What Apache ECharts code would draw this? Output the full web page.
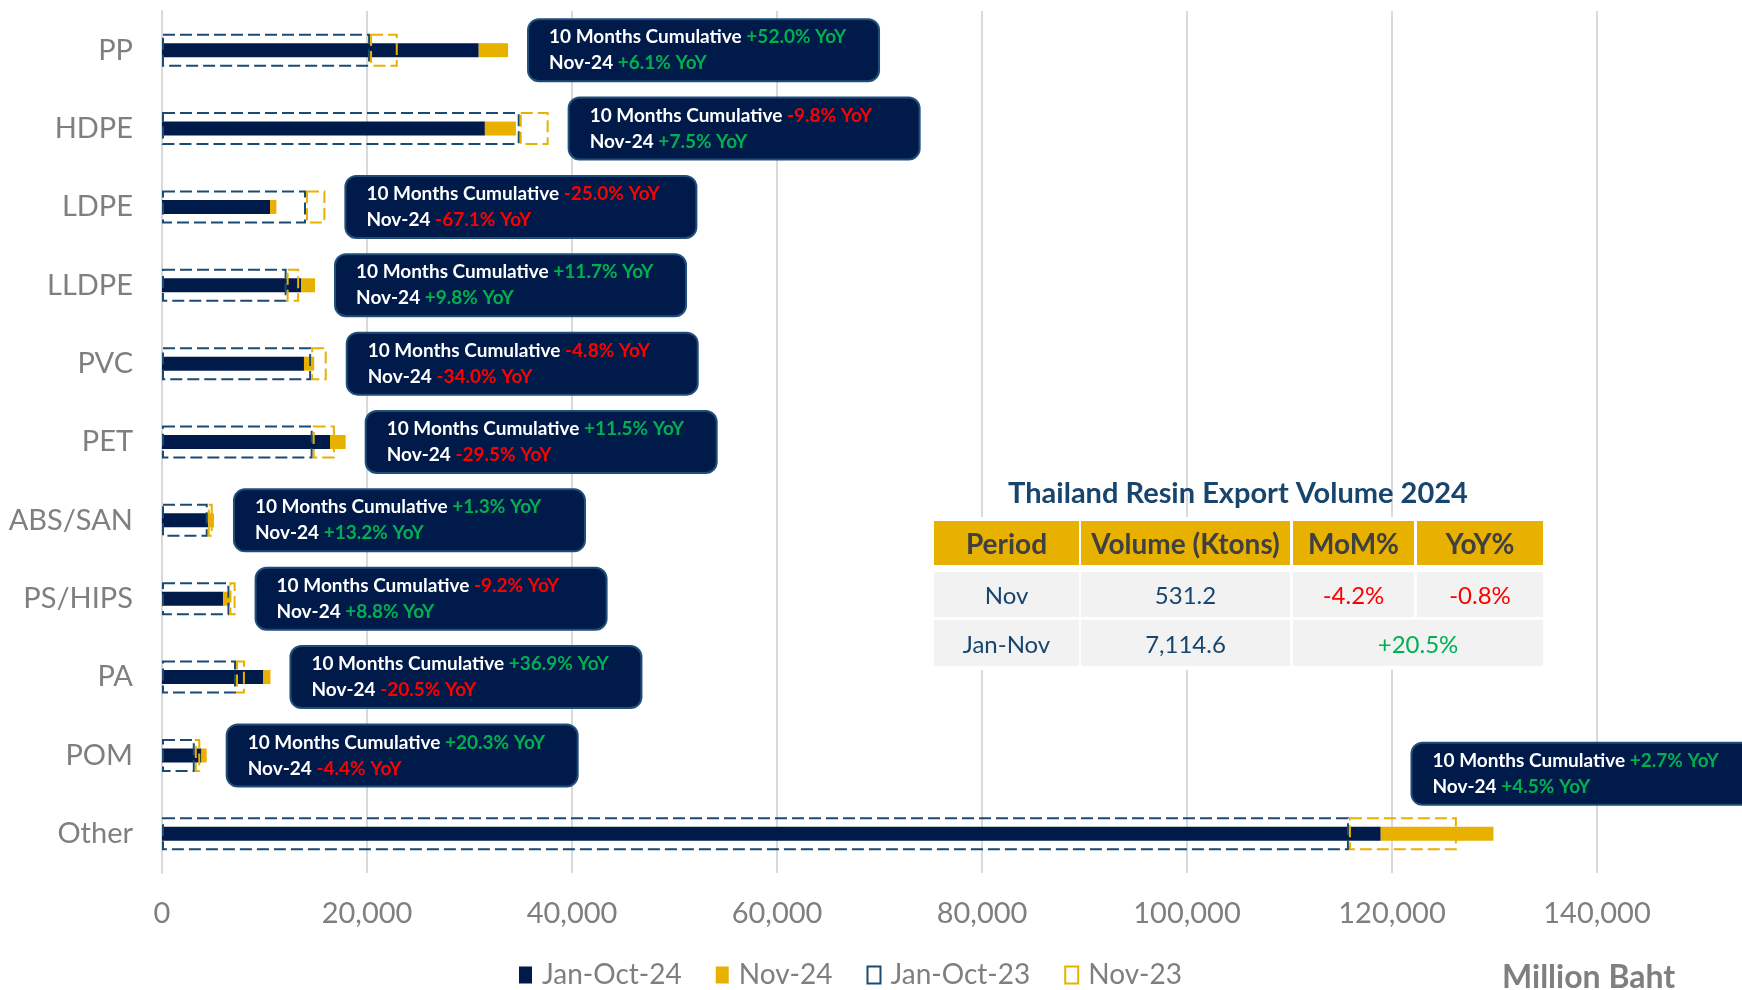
<!DOCTYPE html>
<html>
<head>
<meta charset="utf-8">
<title>Thailand Resin Export</title>
<script src="https://cdn.jsdelivr.net/npm/echarts@6/dist/echarts.min.js"></script>
<style>
  html, body { margin: 0; padding: 0; background: #fff; }
  #chart { width: 1742px; height: 990px; }
</style>
</head>
<body>
<div id="chart"></div>
<script>
// resin categories, top to bottom
var categories = ['PP', 'HDPE', 'LDPE', 'LLDPE', 'PVC', 'PET', 'ABS/SAN', 'PS/HIPS', 'PA', 'POM', 'Other'];

// export value, million baht
var janOct24 = [30900, 31500, 10540, 13590, 13850, 16390, 4520, 5980, 9890, 3850, 118900];
var nov24    = [2860, 3030, 620, 1340, 1000, 1530, 550, 650, 690, 510, 11000];
var janOct23 = [20300, 34900, 14050, 12160, 14550, 14700, 4460, 6580, 7220, 3200, 115800];
var nov23    = [2700, 2820, 1890, 1220, 1520, 2170, 486, 600, 870, 533, 10530];

// callout texts
var cumYoY = ['+52.0%', '-9.8%', '-25.0%', '+11.7%', '-4.8%', '+11.5%', '+1.3%', '-9.2%', '+36.9%', '+20.3%', '+2.7%'];
var novYoY = ['+6.1%', '+7.5%', '-67.1%', '+9.8%', '-34.0%', '-29.5%', '+13.2%', '+8.8%', '-20.5%', '-4.4%', '+4.5%'];

// x axis ticks
var xTicks = [0, 20000, 40000, 60000, 80000, 100000, 120000, 140000];

// summary table
var tableTitle = 'Thailand Resin Export Volume 2024';
var tableHeader = ['Period', 'Volume (Ktons)', 'MoM%', 'YoY%'];
var novRow = ['Nov', '531.2', '-4.2%', '-0.8%'];
var ytdRow = ['Jan-Nov', '7,114.6', '+20.5%'];

var FONT = 'Lato, "Open Sans", sans-serif';
var NAVY = '#001a4a';
var GOLD = '#e8b100';
var DASH_BLUE = '#1b4a72';
var GREY = '#7f7f7f';
var GREEN = '#00b050';
var RED = '#ff0000';

function pctStyle(s) { return s.charAt(0) === '-' ? 'dn' : 'up'; }
function pctColor(s) { return s.charAt(0) === '-' ? RED : GREEN; }

// where each callout hangs: end of the longer stack
var calloutData = categories.map(function (c, i) {
  var end = Math.max(janOct24[i] + nov24[i], janOct23[i] + nov23[i]);
  var item = { value: [end, c] };
  if (c === 'Other') {
    item.label = { position: [-81, -90] };
  }
  return item;
});

// table graphics
function buildTable() {
  var cols = [[934, 1079], [1081, 1290], [1293, 1414], [1417, 1543]];
  var rows = [[521, 565], [572, 617], [620, 666]];
  var g = [];
  g.push({
    type: 'text', x: 1238, y: 494, z: 100,
    style: { text: tableTitle, fill: '#17456e', font: 'bold 29px ' + FONT, textAlign: 'center', textVerticalAlign: 'middle' }
  });
  g.push({ type: 'rect', z: 99, shape: { x: 930, y: 517, width: 618, height: 153 }, style: { fill: '#fff' } });
  function cell(c0, c1, r, fill, text, color, font) {
    var x0 = cols[c0][0], x1 = cols[c1][1];
    g.push({ type: 'rect', z: 100, shape: { x: x0, y: rows[r][0], width: x1 - x0, height: rows[r][1] - rows[r][0] }, style: { fill: fill } });
    g.push({
      type: 'text', z: 101, x: (x0 + x1) / 2, y: (rows[r][0] + rows[r][1]) / 2 + 2,
      style: { text: text, fill: color, font: font, textAlign: 'center', textVerticalAlign: 'middle' }
    });
  }
  var hFont = 'bold 28px ' + FONT;
  var rFont = '24px ' + FONT;
  tableHeader.forEach(function (t, i) { cell(i, i, 0, GOLD, t, '#404040', hFont); });
  cell(0, 0, 1, '#f2f2f2', novRow[0], '#17456e', rFont);
  cell(1, 1, 1, '#f2f2f2', novRow[1], '#17456e', rFont);
  cell(2, 2, 1, '#f2f2f2', novRow[2], pctColor(novRow[2]), rFont);
  cell(3, 3, 1, '#f2f2f2', novRow[3], pctColor(novRow[3]), rFont);
  cell(0, 0, 2, '#f2f2f2', ytdRow[0], '#17456e', rFont);
  cell(1, 1, 2, '#f2f2f2', ytdRow[1], '#17456e', rFont);
  cell(2, 3, 2, '#f2f2f2', ytdRow[2], pctColor(ytdRow[2]), rFont);
  g.push({
    type: 'text', x: 1502, y: 978, z: 100,
    style: { text: 'Million Baht', fill: GREY, font: 'bold 32px ' + FONT, textAlign: 'left', textVerticalAlign: 'middle' }
  });
  return g;
}

var chart = echarts.init(document.getElementById('chart'));

var richBase = { fontSize: 19, fontWeight: 'bold', fontFamily: FONT, lineHeight: 26 };

var option = {
  animation: false,
  backgroundColor: '#fff',
  textStyle: { fontFamily: FONT },
  grid: { left: 162, top: 11, width: 1435, height: 862, containLabel: false },
  legend: {
    data: ['Jan-Oct-24', 'Nov-24', 'Jan-Oct-23', 'Nov-23'],
    left: 514, top: 956,
    itemWidth: 13, itemHeight: 17, itemGap: 34,
    icon: 'rect',
    textStyle: { color: GREY, fontSize: 28, fontFamily: FONT, padding: [0, 0, 0, 5] }
  },
  xAxis: {
    type: 'value', min: xTicks[0], max: xTicks[xTicks.length - 1], interval: xTicks[1] - xTicks[0],
    axisLine: { show: false }, axisTick: { show: false },
    splitLine: { lineStyle: { color: '#d9d9d9', width: 2 } },
    axisLabel: {
      color: GREY, fontSize: 29, fontFamily: FONT, margin: 26,
      formatter: function (v) { return v.toLocaleString('en-US'); }
    }
  },
  yAxis: [{
    type: 'category', data: categories, inverse: true,
    axisTick: { show: false },
    axisLine: { lineStyle: { color: '#d9d9d9', width: 2 } },
    axisLabel: { color: GREY, fontSize: 29, fontFamily: FONT, margin: 29 }
  }, {
    type: 'category', data: categories, inverse: true, show: false
  }],
  series: [{
    name: 'Jan-Oct-24', type: 'bar', stack: 'y24', yAxisIndex: 0, barWidth: 14,
    itemStyle: { color: NAVY }, data: janOct24
  }, {
    name: 'Nov-24', type: 'bar', stack: 'y24', yAxisIndex: 0, barWidth: 14,
    itemStyle: { color: GOLD }, data: nov24
  }, {
    name: 'Jan-Oct-23', type: 'bar', stack: 'y23', yAxisIndex: 1, barWidth: 33, z: 3,
    itemStyle: { color: 'rgba(0,0,0,0)', borderColor: DASH_BLUE, borderWidth: 2, borderType: [12, 5] },
    data: janOct23
  }, {
    name: 'Nov-23', type: 'bar', stack: 'y23', yAxisIndex: 1, barWidth: 33, z: 3,
    itemStyle: { color: 'rgba(0,0,0,0)', borderColor: GOLD, borderWidth: 2, borderType: [12, 5] },
    data: nov23
  }, {
    name: 'callout', type: 'scatter', yAxisIndex: 0, symbolSize: 0, z: 10,
    silent: true,
    itemStyle: { opacity: 1 },
    label: {
      show: true, position: 'right', distance: 21, opacity: 1,
      backgroundColor: NAVY, borderColor: '#1f4e79', borderWidth: 2, borderRadius: 10,
      padding: [4, 16, 4, 20], width: 313, align: 'left',
      fontWeight: 'bold', fontSize: 19, color: '#fff',
      formatter: function (p) {
        var i = p.dataIndex;
        return '{w|10 Months Cumulative} {' + pctStyle(cumYoY[i]) + '|' + cumYoY[i] + ' YoY}\n' +
               '{w|Nov-24} {' + pctStyle(novYoY[i]) + '|' + novYoY[i] + ' YoY}';
      },
      rich: {
        w: Object.assign({ color: '#ffffff' }, richBase),
        up: Object.assign({ color: GREEN }, richBase),
        dn: Object.assign({ color: RED }, richBase)
      }
    },
    data: calloutData
  }],
  graphic: buildTable()
};

chart.setOption(option);
</script>
</body>
</html>
